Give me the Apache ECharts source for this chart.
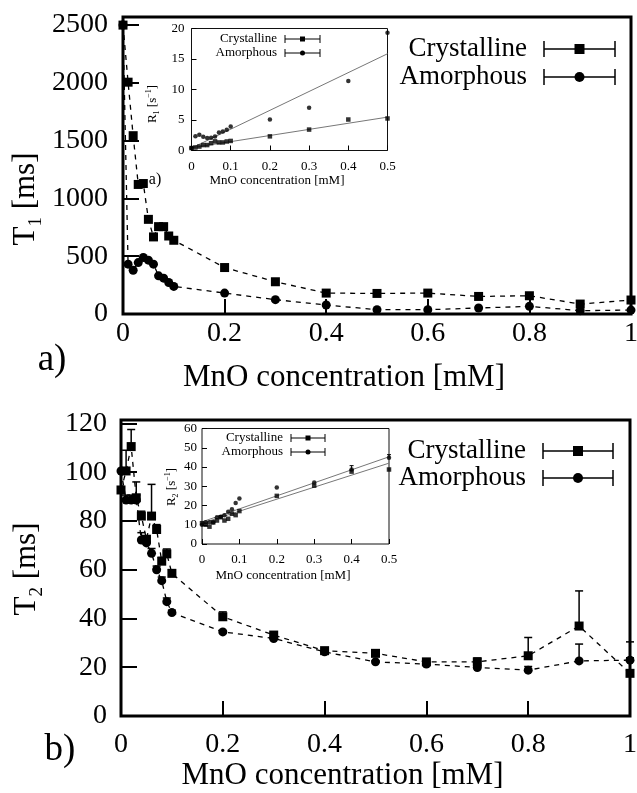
<!DOCTYPE html>
<html>
<head>
<meta charset="utf-8">
<title>T1 / T2 vs MnO concentration</title>
<script src="https://cdn.jsdelivr.net/npm/echarts@6/dist/echarts.min.js"></script>
<style>body { margin: 0; background: #fff; }</style>
</head>
<body>
<div id="main" style="width: 637px; height: 793px;"></div>
<script type="text/javascript">
// concentrations [mM] used in the two main panels
var conc = [0, 0.01, 0.02, 0.03, 0.04, 0.05, 0.06, 0.07, 0.08, 0.09, 0.1, 0.2, 0.3, 0.4, 0.5, 0.6, 0.7, 0.8, 0.9, 1]
// a) T1 [ms]
var t1Crystalline = [2500, 2006, 1543, 1121, 1129, 819, 667, 756, 756, 675, 638, 402, 279, 181, 178, 181, 152, 158, 86, 121]
var t1Amorphous = [2500, 431, 379, 445, 489, 466, 431, 330, 310, 273, 239, 181, 124, 78, 37, 37, 52, 66, 29, 34]
var t1AmorphousErr = [0, 0, 0, 0, 0, 0, 0, 0, 0, 0, 0, 0, 0, 0, 0, 0, 0, 0, 55, 0]
// b) T2 [ms]
var t2Crystalline = [92.7, 100.5, 110.5, 89.5, 82.0, 72.5, 82.0, 76.5, 63.5, 66.5, 58.5, 40.7, 33.2, 26.8, 25.7, 22.2, 22.2, 24.7, 36.9, 17.5]
var t2CrystallineErr = [0, 8.5, 7.0, 6.5, 2.0, 0, 13.0, 2.0, 1.5, 2.0, 1.5, 2.0, 0.8, 0.8, 0.8, 0.8, 1.6, 7.5, 14.4, 12.9]
var t2Amorphous = [100.5, 88.6, 88.6, 88.6, 72.2, 71.0, 66.7, 60.0, 55.5, 46.9, 42.4, 34.5, 31.8, 26.3, 22.2, 21.3, 19.9, 18.8, 22.6, 22.9]
var t2AmorphousErr = [0, 2, 2, 2, 3, 2, 2, 1.5, 1.5, 1.5, 1.0, 0.5, 0.5, 0.5, 0.5, 0.5, 0.5, 1.5, 6.9, 1.0]

// insets: relaxation rates [1/s]
var concInset = [0, 0.01, 0.02, 0.03, 0.04, 0.05, 0.06, 0.07, 0.08, 0.09, 0.1, 0.2, 0.3, 0.4, 0.5]
var r1Crystalline = [0.4, 0.5, 0.65, 0.89, 0.89, 1.2, 1.5, 1.32, 1.32, 1.48, 1.57, 2.32, 3.43, 5.08, 5.25]
var r1Amorphous = [0.4, 2.32, 2.6, 2.25, 2.05, 2.1, 2.3, 2.95, 3.1, 3.4, 3.95, 5.08, 7.02, 11.4, 19.3]
var r1FitCrystalline = [[0, 0.45], [0.5, 5.47]]
var r1FitAmorphous = [[0, 0.4], [0.5, 15.86]]
var r2Crystalline = [10.8, 10.0, 9.0, 11.2, 12.2, 13.9, 12.2, 13.1, 15.7, 15.0, 17.1, 25.0, 30.3, 37.6, 38.7]
var r2Amorphous = [10.0, 11.3, 11.3, 11.3, 13.9, 14.1, 15.0, 16.7, 18.0, 21.3, 23.6, 29.4, 32.0, 38.7, 44.8]
var r2AmorphousErr = [0, 0, 0, 0, 0, 0, 0, 0, 0, 0, 0, 0, 0, 2.0, 1.6]
var r2FitCrystalline = [[0, 10.8], [0.5, 42.0]]
var r2FitAmorphous = [[0, 11.5], [0.5, 45.3]]

var serif = '"Liberation Serif", "DejaVu Serif", serif'
var myChart = echarts.init(document.getElementById("main"))

function pairs(xs, ys) {
    return xs.map(function (x, i) { return [x, ys[i]] })
}

// upward error bars with a cap
function errSeries(xs, ys, errs, ai, cap, lw) {
    var data = []
    xs.forEach(function (x, i) {
        if (errs[i] > 0) data.push([x, ys[i], ys[i] + errs[i]])
    })
    return {
        type: "custom", xAxisIndex: ai, yAxisIndex: ai, data: data, z: 1, silent: true,
        renderItem: function (params, api) {
            var p0 = api.coord([api.value(0), api.value(1)])
            var p1 = api.coord([api.value(0), api.value(2)])
            var st = { stroke: "#000", lineWidth: lw }
            return {
                type: "group", children: [
                    { type: "line", shape: { x1: p0[0], y1: p0[1], x2: p1[0], y2: p1[1] }, style: st },
                    { type: "line", shape: { x1: p1[0] - cap, y1: p1[1], x2: p1[0] + cap, y2: p1[1] }, style: st }
                ]
            }
        }
    }
}

function dataLine(name, xs, ys, ai, symbol, size) {
    return {
        name: name, type: "line", xAxisIndex: ai, yAxisIndex: ai,
        data: pairs(xs, ys), symbol: symbol, symbolSize: size, z: 3,
        itemStyle: { color: "#000" },
        lineStyle: { color: "#000", width: 1.3, type: [5, 5] }
    }
}

function dots(name, xs, ys, ai, symbol, size) {
    return {
        name: name, type: "scatter", xAxisIndex: ai, yAxisIndex: ai,
        data: pairs(xs, ys), symbol: symbol, symbolSize: size, z: 3,
        itemStyle: { color: "#000" }
    }
}

function fitLine(data, ai) {
    return {
        type: "line", xAxisIndex: ai, yAxisIndex: ai, data: data, symbol: "none", z: 2,
        lineStyle: { color: "#777", width: 1 }
    }
}

// legend row: text, error-bar glyph, marker
function legendRow(xText, y, label, shape, fs, x1, x2, cap, ms, lw) {
    var xm = (x1 + x2) / 2
    var st = { stroke: "#000", lineWidth: lw }
    var marker = shape === "rect"
        ? { type: "rect", shape: { x: xm - ms / 2, y: y - ms / 2, width: ms, height: ms }, style: { fill: "#000" } }
        : { type: "circle", shape: { cx: xm, cy: y, r: ms / 2 }, style: { fill: "#000" } }
    return [
        { type: "text", x: xText, y: y, style: { text: label, fontSize: fs, fontFamily: serif, fill: "#000", align: "right", verticalAlign: "middle" } },
        { type: "line", shape: { x1: x1, y1: y, x2: x2, y2: y }, style: st },
        { type: "line", shape: { x1: x1, y1: y - cap, x2: x1, y2: y + cap }, style: st },
        { type: "line", shape: { x1: x2, y1: y - cap, x2: x2, y2: y + cap }, style: st },
        marker
    ]
}

function yTitle(x, y, letter, fs, withUnit) {
    var sub = Math.round(fs * 0.63)
    var text = "{m|" + letter + "}{s|" + withUnit + "}{m| [s}{p|−1}{m|]}"
    return {
        type: "text", x: x, y: y, rotation: Math.PI / 2,
        style: {
            text: text, align: "center", verticalAlign: "middle", fill: "#000",
            rich: {
                m: { fontSize: fs, fontFamily: serif, lineHeight: fs * 1.25, fill: "#000" },
                s: { fontSize: sub, fontFamily: serif, lineHeight: sub, verticalAlign: "bottom", fill: "#000" },
                p: { fontSize: sub, fontFamily: serif, lineHeight: sub, verticalAlign: "top", fill: "#000" }
            }
        }
    }
}

function mainTitle(x, y, sub) {
    return {
        type: "text", x: x, y: y, rotation: Math.PI / 2,
        style: {
            text: "{m|T}{s|" + sub + "}{m| [ms]}", align: "center", verticalAlign: "middle", fill: "#000",
            rich: {
                m: { fontSize: 31, fontFamily: serif, lineHeight: 39, fill: "#000" },
                s: { fontSize: 19, fontFamily: serif, lineHeight: 19, verticalAlign: "bottom", fill: "#000" }
            }
        }
    }
}

function mainX(ai, margin, gap) {
    return {
        type: "value", gridIndex: ai, min: 0, max: 1, interval: 0.2,
        name: "MnO concentration [mM]", nameLocation: "middle", nameGap: gap,
        nameTextStyle: { fontSize: 31, fontFamily: serif, color: "#000", padding: [0, 66, 0, 0] },
        axisLine: { show: false },
        axisTick: { inside: true, length: 15, lineStyle: { color: "#000", width: 2 } },
        axisLabel: { margin: margin, fontSize: 28, fontFamily: serif, color: "#000" },
        splitLine: { show: false }
    }
}

function mainY(ai, max, step, margin) {
    return {
        type: "value", gridIndex: ai, min: 0, max: max, interval: step,
        axisLine: { show: false },
        axisTick: { inside: true, length: 16, lineStyle: { color: "#000", width: 2 } },
        axisLabel: {
            margin: margin, fontSize: 28, fontFamily: serif, color: "#000",
            formatter: function (v) { return Math.abs(v % step) < 1e-6 ? String(v) : "" }
        },
        splitLine: { show: false }
    }
}

function insetAxis(ai, max, step, isX, margin, gap) {
    var ax = {
        type: "value", gridIndex: ai, min: 0, max: max, interval: step,
        axisLine: { show: false },
        axisTick: { inside: true, length: 5, lineStyle: { color: "#000", width: 1 } },
        axisLabel: { margin: margin, fontSize: 13, fontFamily: serif, color: "#000" },
        splitLine: { show: false }
    }
    if (isX) {
        ax.name = "MnO concentration [mM]"
        ax.nameLocation = "middle"
        ax.nameGap = gap
        ax.nameTextStyle = { fontSize: 13, fontFamily: serif, color: "#000", padding: [0, 25, 0, 0] }
    }
    return ax
}

var mainGrid = { show: true, borderColor: "#000", borderWidth: 3, containLabel: false, outerBoundsMode: "none" }
var insetGrid = { show: true, borderColor: "#111", borderWidth: 1, containLabel: false, outerBoundsMode: "none" }

var graphics = []
    .concat(legendRow(527, 49, "Crystalline", "rect", 27, 544, 615, 8, 10, 1.5))
    .concat(legendRow(527, 77, "Amorphous", "circle", 27, 544, 615, 8, 10, 1.5))
    .concat(legendRow(277, 39, "Crystalline", "rect", 13, 285, 320, 4, 5, 1))
    .concat(legendRow(277, 53, "Amorphous", "circle", 13, 285, 320, 4, 5, 1))
    .concat(legendRow(526, 451, "Crystalline", "rect", 27, 543, 613, 8, 10, 1.5))
    .concat(legendRow(526, 478, "Amorphous", "circle", 27, 543, 613, 8, 10, 1.5))
    .concat(legendRow(283, 438, "Crystalline", "rect", 13, 291, 325, 4, 5, 1))
    .concat(legendRow(283, 452, "Amorphous", "circle", 13, 291, 325, 4, 5, 1))
graphics.push(mainTitle(26, 199, "1"))
graphics.push(mainTitle(27, 569, "2"))
graphics.push(yTitle(153, 104, "R", 13, "1"))
graphics.push(yTitle(172, 487, "R", 13, "2"))
graphics.push({ type: "text", x: 52, y: 360, style: { text: "a)", fontSize: 37, fontFamily: serif, fill: "#000", align: "center", verticalAlign: "middle" } })
graphics.push({ type: "text", x: 60, y: 750, style: { text: "b)", fontSize: 37, fontFamily: serif, fill: "#000", align: "center", verticalAlign: "middle" } })
graphics.push({ type: "text", x: 155, y: 180, style: { text: "a)", fontSize: 16, fontFamily: serif, fill: "#000", align: "center", verticalAlign: "middle" } })

var option = {
    animation: false,
    backgroundColor: "#fff",
    grid: [
        Object.assign({ left: 123, top: 17, width: 508, height: 297 }, mainGrid),
        Object.assign({ left: 191.5, top: 28.5, width: 196, height: 122 }, insetGrid),
        Object.assign({ left: 121, top: 420, width: 509, height: 296 }, mainGrid),
        Object.assign({ left: 202, top: 428.5, width: 187, height: 115.5 }, insetGrid)
    ],
    xAxis: [
        mainX(0, 6, 48),
        insetAxis(1, 0.5, 0.1, true, 10, 22),
        mainX(2, 15, 33),
        insetAxis(3, 0.5, 0.1, true, 9, 25)
    ],
    yAxis: [
        mainY(0, 2570, 500, 15),
        insetAxis(1, 20, 5, false, 7),
        mainY(2, 121.4, 20, 14),
        insetAxis(3, 60, 10, false, 5)
    ],
    series: [
        dataLine("Crystalline", conc, t1Crystalline, 0, "rect", 9),
        dataLine("Amorphous", conc, t1Amorphous, 0, "circle", 9),
        errSeries(conc, t1Amorphous, t1AmorphousErr, 0, 4, 2),
        fitLine(r1FitCrystalline, 1),
        fitLine(r1FitAmorphous, 1),
        dots("Crystalline", concInset, r1Crystalline, 1, "rect", 4.5),
        dots("Amorphous", concInset, r1Amorphous, 1, "circle", 4.5),
        dataLine("Crystalline", conc, t2Crystalline, 2, "rect", 9),
        dataLine("Amorphous", conc, t2Amorphous, 2, "circle", 9),
        errSeries(conc, t2Crystalline, t2CrystallineErr, 2, 4, 1.5),
        errSeries(conc, t2Amorphous, t2AmorphousErr, 2, 4, 1.5),
        fitLine(r2FitCrystalline, 3),
        fitLine(r2FitAmorphous, 3),
        dots("Crystalline", concInset, r2Crystalline, 3, "rect", 4.5),
        dots("Amorphous", concInset, r2Amorphous, 3, "circle", 4.5),
        errSeries(concInset, r2Amorphous, r2AmorphousErr, 3, 2, 1)
    ],
    graphic: graphics
}

myChart.setOption(option)
</script>
</body>
</html>
